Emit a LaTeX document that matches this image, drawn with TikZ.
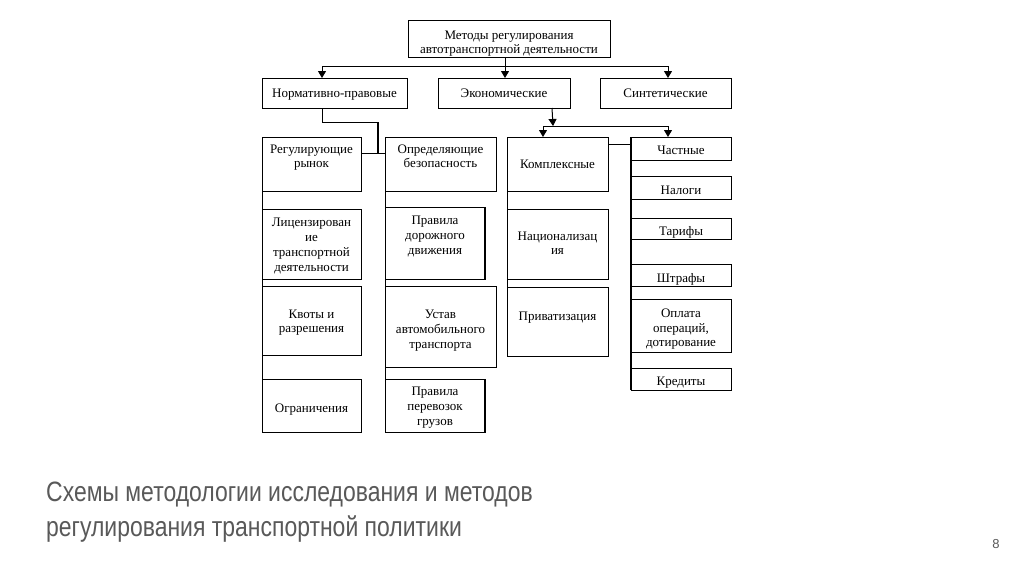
\documentclass[tikz,border=0pt]{standalone}
\usepackage{fontspec}
\setmainfont{Liberation Serif}
\newfontfamily\capfont{Liberation Sans}
\usetikzlibrary{arrows.meta}
\definecolor{capgray}{RGB}{89,89,89}
\tikzset{
  boxst/.style={draw=black, line width=1pt, inner sep=0pt, outer sep=0pt},
  txt/.style={align=center, font=\fontsize{13}{14.8}\selectfont, inner sep=0pt,
    execute at begin node=\strut, execute at end node=\strut},
  ln/.style={draw=black, line width=1pt},
  thk/.style={draw=black, line width=2pt},
  arr/.style={draw=black, line width=1pt, -{Triangle[width=8pt,length=7pt]}},
  captxt/.style={anchor=base west, inner sep=0pt, text=capgray, font=\capfont\fontsize{28}{34}\selectfont},
}
\newcommand\mybox[7]{%
  \node[boxst, minimum width={#4-#2}, minimum height={#5-#3}, anchor=north west] (#1) at (#2,#3) {};
  \node[txt] (#1t) at ([yshift={#7pt-3pt}]#1.center) {#6};}
\begin{document}
\begin{tikzpicture}[x=1pt,y=-1pt]
\useasboundingbox[fill=white] (0,0) rectangle (1024,574);
% top
\mybox{top}{408}{20}{610}{57}{Методы регулирования\\автотранспортной деятельности}{-3}
\mybox{norm}{262}{78}{407}{108}{Нормативно-правовые}{1}
\mybox{eco}{438}{78}{570}{108}{Экономические}{1}
\mybox{sint}{600}{78}{731}{108}{Синтетические}{1}
% column 1
\mybox{reg}{262}{137}{361}{191}{Регулирующие\\рынок}{8.5}
\mybox{lic}{262}{209}{361}{279}{Лицензирован\\ие\\транспортной\\деятельности}{0}
\mybox{kvot}{262}{286}{361}{355}{Квоты и\\разрешения}{0}
\mybox{ogr}{262}{379}{361}{432}{Ограничения}{-1.5}
% column 2
\mybox{opr}{385}{137}{496}{191}{Определяющие\\безопасность}{8.5}
\mybox{pdd}{385}{207}{485}{279}{Правила\\дорожного\\движения}{8.5}
\mybox{ust}{385}{286}{496}{367}{Устав\\автомобильного\\транспорта}{-2}
\mybox{ppg}{385}{379}{485}{432}{Правила\\перевозок\\грузов}{0}
% column 3
\mybox{kompl}{507}{137}{608}{191}{Комплексные}{1}
\mybox{nac}{507}{209}{608}{279}{Национализац\\ия}{1.5}
\mybox{priv}{507}{287}{608}{356}{Приватизация}{6.5}
% column 4
\mybox{chast}{631}{137}{731}{160}{Частные}{-0.5}
\mybox{nal}{631}{176}{731}{199}{Налоги}{-1}
\mybox{tar}{631}{218}{731}{239}{Тарифы}{-1.5}
\mybox{shtr}{631}{264}{731}{286}{Штрафы}{-1.5}
\mybox{opl}{631}{299}{731}{352}{Оплата\\операций,\\дотирование}{-1.5}
\mybox{kred}{631}{368}{731}{390}{Кредиты}{-1}
% thick edges
\draw[thk] (pdd.north east) -- (pdd.south east);
\draw[thk] (ppg.north east) -- (ppg.south east);
\draw[thk] (chast.north west) -- (kred.south west);
% column spines
\draw[ln] (reg.north west) -- (ogr.south west);
\draw[ln] (opr.north west) -- (ppg.south west);
\draw[ln] (kompl.north west) -- (priv.south west);
% top connectors
\coordinate (j1) at (505,66);
\draw[ln] (top.south -| j1) -- (j1);
\draw[arr] (j1) -| ([xshift=-12.5pt]norm.north);
\draw[arr] (j1) -| ([xshift=2.5pt]sint.north);
\draw[arr] (j1) -- (j1 |- eco.north);
% normative connector
\coordinate (nj) at (378,122);
\coordinate (nk) at (378,153);
\draw[ln] ([xshift=-12.5pt]norm.south) |- (nj);
\draw[thk] (nj) -- (nk);
\draw[ln] ([yshift=-16pt]reg.north east) -- ([yshift=-16pt]opr.north west);
% economic connector
\coordinate (ej) at (553,126);
\draw[arr] ([xshift=-1pt]eco.south -| ej) -- (ej);
\draw[arr] (ej) -| ([xshift=-14.5pt]kompl.north);
\draw[arr] (ej) -| ([xshift=-13pt]chast.north);
\draw[ln] ([yshift=-7pt]kompl.north east) -- ([yshift=-7pt]chast.north west);
% caption
\node[captxt] (cap1) at (46,501.5) {\scalebox{0.82}[1]{Схемы методологии исследования и методов}};
\node[captxt] (cap2) at (46,536) {\scalebox{0.82}[1]{регулирования транспортной политики}};
\node[anchor=center, inner sep=0pt, text=capgray, font=\capfont\fontsize{13}{15}\selectfont] (pg) at (996,544) {8};
\end{tikzpicture}
\end{document}
